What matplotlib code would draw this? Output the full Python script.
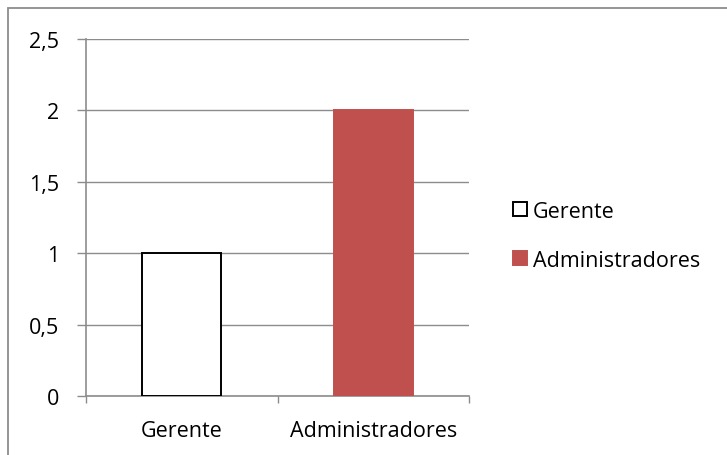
import matplotlib

matplotlib.use("Agg")
import matplotlib.pyplot as plt
from matplotlib.patches import Patch, Rectangle

categories = ["Gerente", "Administradores"]
values = [1, 2]
yticks = [0, 0.5, 1, 1.5, 2, 2.5]
ytick_labels = ["0", "0,5", "1", "1,5", "2", "2,5"]

W, H = 727, 456
FS = 15.5
plt.rcParams["font.family"] = ["Open Sans", "DejaVu Sans"]

fig = plt.figure(figsize=(W / 100, H / 100), dpi=100)

# chart frame: only the top/left edges fall inside the image
fig.patches.append(Rectangle((8 / W, -0.5), 1.5, 1.5 - 9 / H, transform=fig.transFigure,
                             fill=False, edgecolor="#8c8c8c", lw=1.3))

ax = fig.add_axes([86 / W, 1 - 397 / H, (469 - 86) / W, (397 - 40) / H])
faces = ["white", "#c0504d"]
edges = ["black", "#c0504d"]
ax.bar(range(len(categories)), values, width=0.41, color=faces, edgecolor=edges,
       linewidth=1.4, zorder=3)

ax.set_xlim(-0.5, 1.5)
ax.set_ylim(0, 2.5)
ax.set_yticks(yticks)
ax.set_yticklabels(ytick_labels)
ax.yaxis.grid(True, color="#8c8c8c", lw=1.0, zorder=0)

ax.set_xticks([-0.5, 0.5, 1.5])
ax.set_xticklabels([])
ax.set_xticks(range(len(categories)), minor=True)
ax.set_xticklabels(categories, minor=True)
ax.tick_params(axis="x", which="major", direction="out", length=5, color="#8c8c8c", width=1)
ax.tick_params(axis="x", which="minor", length=0, pad=17, labelsize=FS)
ax.tick_params(axis="y", direction="out", length=6.5, color="#8c8c8c", width=1,
               labelsize=FS, pad=13)

for s in ["top", "right"]:
    ax.spines[s].set_visible(False)
for s in ["left", "bottom"]:
    ax.spines[s].set_color("#8c8c8c")
    ax.spines[s].set_linewidth(1.2)

handles = [Patch(facecolor=f, edgecolor=e, linewidth=1.4) for f, e in zip(faces, edges)]
fig.legend(handles, categories, loc="center left", bbox_to_anchor=(494 / W, 1 - 237 / H),
           frameon=False, fontsize=FS, handlelength=0.62, handleheight=0.62,
           handletextpad=0.3, labelspacing=1.3)

fig.savefig("out.png", dpi=100)
